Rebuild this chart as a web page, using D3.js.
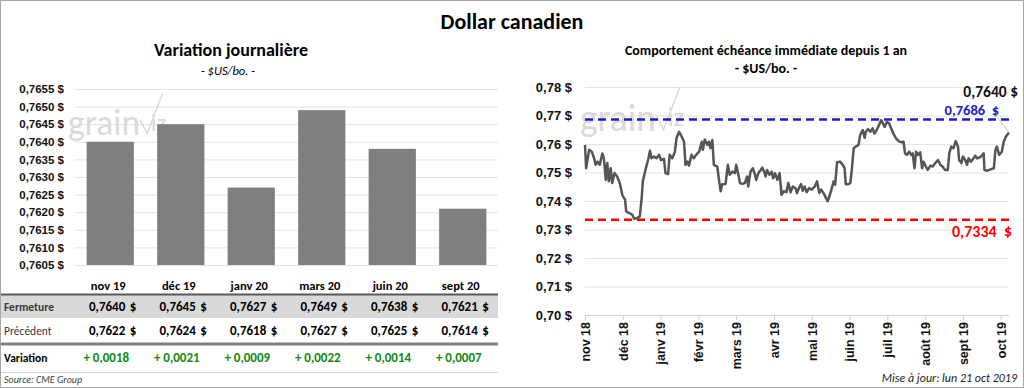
<!DOCTYPE html>
<html>
<head>
<meta charset="utf-8">
<script src="https://cdn.jsdelivr.net/npm/d3@7"></script>
<style>
  body { margin: 0; background: #fff; }
  svg { display: block; font-family: Carlito, Lato, "Open Sans", sans-serif; }
  .grid line { stroke: #e3e3e3; }
  .grid text { font-size: 11.5px; font-weight: 700; fill: #111; }
</style>
</head>
<body>
<svg id="chart" width="1024" height="388"></svg>
<script>
"use strict";

// left panel: daily variation by contract month
var contracts = ["nov 19", "déc 19", "janv 20", "mars 20", "juin 20", "sept 20"];
var closing   = [0.7640, 0.7645, 0.7627, 0.7649, 0.7638, 0.7621];
var previous  = [0.7622, 0.7624, 0.7618, 0.7627, 0.7625, 0.7614];
var change    = [0.0018, 0.0021, 0.0009, 0.0022, 0.0014, 0.0007];
var barTicks  = [0.7605, 0.7610, 0.7615, 0.7620, 0.7625, 0.7630, 0.7635, 0.7640, 0.7645, 0.7650, 0.7655];

// right panel: nearby contract over one year (x = months since nov 18)
var monthLabels = ["nov 18", "déc 18", "janv 19", "févr 19", "mars 19", "avr 19",
                   "mai 19", "juin 19", "juil 19", "août 19", "sept 19", "oct 19"];
var priceTicks = [0.70, 0.71, 0.72, 0.73, 0.74, 0.75, 0.76, 0.77, 0.78];
var yearHigh = 0.7686, yearLow = 0.7334, lastPrice = 0.7640;
var nearby = [
  [0.00,0.7597],[0.03,0.7515],[0.11,0.7580],[0.18,0.7573],[0.24,0.7550],[0.28,0.7527],
  [0.33,0.7538],[0.39,0.7527],[0.46,0.7567],[0.50,0.7550],[0.55,0.7474],[0.59,0.7533],
  [0.63,0.7469],[0.68,0.7515],[0.72,0.7463],[0.78,0.7498],[0.85,0.7486],[0.92,0.7463],
  [0.99,0.7420],[1.06,0.7405],[1.09,0.7364],[1.16,0.7358],[1.25,0.7352],[1.30,0.7338],
  [1.38,0.7340],[1.45,0.7346],[1.50,0.7410],[1.53,0.7469],[1.60,0.7509],[1.68,0.7550],
  [1.72,0.7576],[1.76,0.7550],[1.83,0.7556],[1.89,0.7550],[1.96,0.7562],[2.01,0.7544],
  [2.09,0.7548],[2.13,0.7498],[2.20,0.7494],[2.24,0.7562],[2.31,0.7550],[2.38,0.7573],
  [2.42,0.7620],[2.49,0.7643],[2.56,0.7626],[2.62,0.7608],[2.66,0.7527],[2.71,0.7538],
  [2.75,0.7524],[2.82,0.7562],[2.88,0.7550],[2.94,0.7562],[3.02,0.7573],[3.09,0.7608],
  [3.12,0.7580],[3.17,0.7616],[3.24,0.7597],[3.28,0.7608],[3.32,0.7585],[3.37,0.7614],
  [3.41,0.7527],[3.50,0.7521],[3.54,0.7480],[3.59,0.7434],[3.63,0.7459],[3.72,0.7460],
  [3.78,0.7527],[3.83,0.7492],[3.90,0.7503],[3.97,0.7498],[4.00,0.7527],[4.06,0.7492],
  [4.10,0.7463],[4.16,0.7460],[4.23,0.7463],[4.29,0.7486],[4.32,0.7451],[4.38,0.7503],
  [4.44,0.7515],[4.50,0.7492],[4.53,0.7474],[4.59,0.7498],[4.65,0.7509],[4.69,0.7517],
  [4.74,0.7503],[4.78,0.7486],[4.82,0.7509],[4.88,0.7492],[4.94,0.7503],[4.98,0.7480],
  [5.03,0.7498],[5.09,0.7474],[5.15,0.7498],[5.20,0.7422],[5.26,0.7434],[5.33,0.7431],
  [5.38,0.7463],[5.44,0.7431],[5.50,0.7451],[5.57,0.7445],[5.61,0.7428],[5.67,0.7448],
  [5.72,0.7459],[5.76,0.7436],[5.81,0.7451],[5.87,0.7431],[5.93,0.7445],[6.00,0.7440],
  [6.08,0.7451],[6.14,0.7469],[6.20,0.7428],[6.25,0.7440],[6.31,0.7428],[6.38,0.7410],
  [6.42,0.7399],[6.46,0.7413],[6.52,0.7440],[6.58,0.7469],[6.62,0.7457],[6.67,0.7536],
  [6.75,0.7538],[6.82,0.7527],[6.87,0.7515],[6.90,0.7459],[6.97,0.7459],[7.02,0.7463],
  [7.06,0.7509],[7.11,0.7585],[7.17,0.7591],[7.24,0.7597],[7.28,0.7631],[7.35,0.7649],
  [7.40,0.7622],[7.43,0.7643],[7.49,0.7652],[7.55,0.7643],[7.61,0.7655],[7.66,0.7637],
  [7.72,0.7649],[7.79,0.7669],[7.84,0.7684],[7.87,0.7676],[7.93,0.7660],[7.99,0.7678],
  [8.05,0.7672],[8.10,0.7655],[8.17,0.7634],[8.23,0.7620],[8.30,0.7610],[8.37,0.7606],
  [8.43,0.7608],[8.47,0.7567],[8.52,0.7562],[8.58,0.7573],[8.63,0.7562],[8.67,0.7567],
  [8.72,0.7515],[8.76,0.7573],[8.81,0.7562],[8.87,0.7571],[8.92,0.7515],[8.96,0.7538],
  [9.02,0.7521],[9.07,0.7509],[9.14,0.7524],[9.20,0.7521],[9.27,0.7533],[9.34,0.7544],
  [9.40,0.7527],[9.46,0.7521],[9.53,0.7509],[9.60,0.7509],[9.64,0.7567],[9.69,0.7591],
  [9.75,0.7585],[9.81,0.7610],[9.87,0.7591],[9.90,0.7544],[9.96,0.7533],[10.00,0.7556],
  [10.06,0.7544],[10.11,0.7527],[10.15,0.7550],[10.21,0.7538],[10.28,0.7550],[10.33,0.7559],
  [10.37,0.7550],[10.43,0.7552],[10.48,0.7556],[10.55,0.7567],[10.57,0.7509],[10.63,0.7506],
  [10.70,0.7509],[10.77,0.7513],[10.82,0.7515],[10.86,0.7579],[10.90,0.7591],[10.96,0.7562],
  [11.03,0.7573],[11.08,0.7608],[11.14,0.7626],[11.22,0.7640]
];

function fr(v, n) { return v.toFixed(n).replace(".", ","); }

var svg = d3.select("#chart");

// frame
svg.append("rect").attr("x", 0.5).attr("y", 0.5).attr("width", 1023).attr("height", 387)
   .attr("fill", "none").attr("stroke", "#a6a6a6");

svg.append("text").attr("x", 512).attr("y", 29).attr("text-anchor", "middle")
   .style("font-size", "22px").style("font-weight", 700).text("Dollar canadien");

// watermark
function watermark(g, x, y, s) {
  var w = g.append("g").attr("transform", "translate(" + x + "," + y + ")")
           .attr("fill", "#dadada").attr("stroke", "none");
  w.append("text").style("font-size", s + "px").style("font-weight", 300)
   .attr("textLength", s * 2.0).attr("lengthAdjust", "spacingAndGlyphs").text("grain");
  w.append("path").attr("fill", "none").attr("stroke", "#d4d4d4").attr("stroke-width", 1.2)
   .attr("d", "M" + (s * 2.0) + "," + (-s * 0.42) + " l" + (s * 0.2) + "," + (s * 0.38) +
               " l" + (s * 0.42) + "," + (-s * 1.1));
  w.append("text").attr("x", s * 2.3).attr("y", -s * 0.12)
   .style("font-size", (s * 0.7) + "px").style("font-weight", 300).text("iz");
}

// ---------- left: bars ----------
var L = {left: 75, right: 498, top: 89, bottom: 265};

svg.append("text").attr("x", 231).attr("y", 56).attr("text-anchor", "middle")
   .style("font-size", "18px").style("font-weight", 700).text("Variation journalière");
svg.append("text").attr("x", 228).attr("y", 75).attr("text-anchor", "middle")
   .style("font-size", "12.5px").style("font-style", "italic").text("- $US/bo. -");

var xb = d3.scaleBand().domain(contracts).range([L.left, L.right])
           .paddingInner(0.33).paddingOuter(0.165);
var yb = d3.scaleLinear().domain([0.7605, 0.7655]).range([L.bottom, L.top]);

svg.append("g").attr("class", "grid")
   .attr("transform", "translate(" + L.left + ",0)")
   .call(d3.axisLeft(yb).tickValues(barTicks).tickSize(-(L.right - L.left))
           .tickPadding(11).tickFormat(function(d) { return fr(d, 4) + " $"; }))
   .call(function(g) { g.select(".domain").remove(); });

watermark(svg, 68, 135, 36);

svg.append("g").selectAll("rect").data(contracts).join("rect")
   .attr("x", function(d) { return xb(d); })
   .attr("width", xb.bandwidth())
   .attr("y", function(d, i) { return yb(closing[i]); })
   .attr("height", function(d, i) { return yb(0.7605) - yb(closing[i]); })
   .attr("fill", "#7f7f7f");

svg.append("g").selectAll("text").data(contracts).join("text")
   .attr("x", function(d) { return xb(d) + xb.bandwidth() / 2 - 2; })
   .attr("y", 290).attr("text-anchor", "middle")
   .style("font-size", "12.5px").style("font-weight", 700).text(function(d) { return d; });

// table
svg.append("rect").attr("x", 1).attr("y", 295).attr("width", L.right - 1).attr("height", 23)
   .attr("fill", "#d9d9d9");
svg.append("line").attr("x1", 1).attr("x2", L.right).attr("y1", 294.5).attr("y2", 294.5)
   .attr("stroke", "#595959").attr("stroke-width", 2);
svg.append("line").attr("x1", 1).attr("x2", L.right).attr("y1", 344).attr("y2", 344)
   .attr("stroke", "#7f7f7f").attr("stroke-width", 3);
svg.append("line").attr("x1", 1).attr("x2", L.right).attr("y1", 372.5).attr("y2", 372.5)
   .attr("stroke", "#d0d0d0").attr("stroke-width", 1);

var rows = [
  {label: "Fermeture", values: closing, y: 311, weight: 600, color: "#3a3a3a"},
  {label: "Précédent", values: previous, y: 335, weight: 400, color: "#3a3a3a"}
];
rows.forEach(function(r) {
  svg.append("text").attr("x", 4).attr("y", r.y).style("font-size", "11.5px")
     .style("font-weight", r.weight).attr("fill", r.color).text(r.label);
  var g = svg.append("g").style("font-size", "13px").style("font-weight", 700);
  g.selectAll(".num").data(r.values).join("text").attr("class", "num")
   .attr("x", function(d, i) { return xb(contracts[i]) + xb.bandwidth() / 2 + 15; })
   .attr("y", r.y).attr("text-anchor", "end").text(function(d) { return fr(d, 4); });
  g.selectAll(".cur").data(r.values).join("text").attr("class", "cur")
   .attr("x", function(d, i) { return xb(contracts[i]) + xb.bandwidth() / 2 + 26; })
   .attr("y", r.y).attr("text-anchor", "end").text("$");
});

svg.append("text").attr("x", 4).attr("y", 362).style("font-size", "11.5px")
   .style("font-weight", 700).text("Variation");
svg.append("g").selectAll("text").data(change).join("text")
   .attr("x", function(d, i) { return xb(contracts[i]) + xb.bandwidth() / 2 - 4; })
   .attr("y", 362).attr("text-anchor", "middle")
   .style("font-size", "13px").style("font-weight", 600).attr("fill", "#118c11")
   .text(function(d) { return (d >= 0 ? "+ " : "- ") + fr(Math.abs(d), 4); });

svg.append("text").attr("x", 4).attr("y", 383).style("font-size", "10px")
   .style("font-style", "italic").attr("fill", "#404040").text("Source: CME Group");

// ---------- right: nearby line ----------
var R = {left: 585, right: 1009, top: 87, bottom: 315};

svg.append("text").attr("x", 766).attr("y", 55).attr("text-anchor", "middle")
   .style("font-size", "14px").style("font-weight", 700)
   .text("Comportement échéance immédiate depuis 1 an");
svg.append("text").attr("x", 766).attr("y", 73).attr("text-anchor", "middle")
   .style("font-size", "14px").style("font-weight", 700).text("- $US/bo. -");

var xl = d3.scaleLinear().domain([0, 11.22]).range([R.left, R.right]);
var yl = d3.scaleLinear().domain([0.70, 0.78]).range([R.bottom, R.top]);

svg.append("g").attr("class", "grid")
   .attr("transform", "translate(" + R.left + ",0)")
   .call(d3.axisLeft(yl).tickValues(priceTicks).tickSize(-(R.right - R.left))
           .tickPadding(13).tickFormat(function(d) { return fr(d, 2) + " $"; }))
   .call(function(g) {
     g.select(".domain").remove();
     g.selectAll("text").style("font-size", "13px");
   });

watermark(svg, 580, 131, 38);

var xAxis = svg.append("g").attr("transform", "translate(0," + R.bottom + ")")
   .call(d3.axisBottom(xl).tickValues(d3.range(monthLabels.length)).tickSize(5)
           .tickFormat(function(d) { return monthLabels[d]; }));
xAxis.select(".domain").attr("stroke", "#d0d0d0").attr("d", "M" + R.left + ",0.5H" + R.right);
xAxis.selectAll("line").attr("stroke", "#d0d0d0");
xAxis.selectAll("text")
   .attr("transform", "rotate(-90)").attr("x", -7).attr("y", 0).attr("dy", "0.35em")
   .style("text-anchor", "end").style("font-size", "12.5px").style("font-weight", 700)
   .attr("fill", "#111");

// high / low reference lines
svg.append("line").attr("x1", R.left).attr("x2", R.right)
   .attr("y1", yl(yearHigh)).attr("y2", yl(yearHigh))
   .attr("stroke", "#1c1cc8").attr("stroke-width", 2.5).attr("stroke-dasharray", "8,5");
svg.append("line").attr("x1", R.left).attr("x2", R.right)
   .attr("y1", yl(yearLow)).attr("y2", yl(yearLow))
   .attr("stroke", "#ff0000").attr("stroke-width", 2.5).attr("stroke-dasharray", "8,5");

svg.append("path").datum(nearby)
   .attr("fill", "none").attr("stroke", "#555555").attr("stroke-width", 2.5)
   .attr("stroke-linejoin", "round")
   .attr("d", d3.line().x(function(d) { return xl(d[0]); }).y(function(d) { return yl(d[1]); }));

// labels
var lastPt = nearby[nearby.length - 1];
svg.append("line")
   .attr("x1", xl(lastPt[0])).attr("y1", yl(lastPt[1]))
   .attr("x2", xl(lastPt[0]) - 15).attr("y2", yl(lastPt[1]) - 20)
   .attr("stroke", "#b0b0b0").attr("stroke-width", 0.8);
svg.append("text").attr("x", 1018).attr("y", yl(yearHigh) - 22).attr("text-anchor", "end")
   .style("font-size", "15.5px").style("font-weight", 600).attr("fill", "#111")
   .style("white-space", "pre").text(fr(lastPrice, 4) + " $");
svg.append("text").attr("x", 999).attr("y", yl(yearHigh) - 4).attr("text-anchor", "end")
   .style("font-size", "14.5px").style("font-weight", 700).attr("fill", "#1c1cc8")
   .style("white-space", "pre").text(fr(yearHigh, 4) + "  $");
svg.append("text").attr("x", 1012).attr("y", yl(yearLow) + 17).attr("text-anchor", "end")
   .style("font-size", "16px").style("font-weight", 700).attr("fill", "#ff0000")
   .style("white-space", "pre").text(fr(yearLow, 4) + "  $");

svg.append("text").attr("x", 1017).attr("y", 382).attr("text-anchor", "end")
   .style("font-size", "12px").style("font-style", "italic").attr("fill", "#222")
   .text("Mise à jour: lun 21 oct 2019");
</script>
</body>
</html>
